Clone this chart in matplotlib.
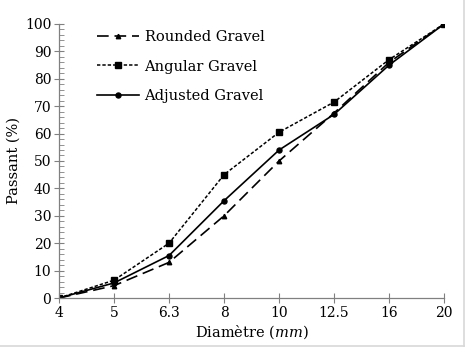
import matplotlib
matplotlib.use("Agg")
import matplotlib.pyplot as plt
from matplotlib.ticker import MultipleLocator

# sieve sizes (mm) and cumulative passing (%)
diam_labels = ["4", "5", "6.3", "8", "10", "12.5", "16", "20"]
rounded = [0, 4.5, 13, 30, 50, 67.5, 86, 100]
angular = [0, 6.5, 20, 45, 60.5, 71.5, 87, 100]
adjusted = [0, 5.5, 15.5, 35.5, 54, 67, 85, 100]

plt.rcParams["font.family"] = ["DejaVu Serif"]
plt.rcParams["mathtext.fontset"] = "dejavuserif"

fig = plt.figure(figsize=(4.74, 3.52), dpi=100)
ax = fig.add_axes([0.1245, 0.1534, 0.8125, 0.7786])

x = list(range(len(diam_labels)))
ax.plot(x, rounded, color="black", lw=1.2, ls=(0, (7, 3.5)), marker="^", ms=3.2,
        label="Rounded Gravel")
ax.plot(x, angular, color="black", lw=1.1, ls=(0, (2.2, 1.3)), marker="s", ms=4,
        label="Angular Gravel")
ax.plot(x, adjusted, color="black", lw=1.2, ls="-", marker="o", ms=3.6,
        label="Adjusted Gravel")

ax.set_xlim(0, len(diam_labels) - 1)
ax.set_ylim(0, 100)
ax.set_xticks(x)
ax.set_xticklabels(diam_labels)
ax.yaxis.set_major_locator(MultipleLocator(10))
ax.yaxis.set_minor_locator(MultipleLocator(2))

for side in ("top", "right"):
    ax.spines[side].set_visible(False)
for side in ("left", "bottom"):
    ax.spines[side].set_color("#808080")
    ax.spines[side].set_linewidth(0.9)
ax.tick_params(which="major", direction="inout", length=7, width=0.8,
               color="#808080", labelsize=10, pad=2)
ax.tick_params(axis="y", which="minor", direction="in", length=3.5, width=0.6,
               color="#808080")

ax.set_xlabel("Diamètre ($mm$)", fontsize=10.5, labelpad=3)
ax.set_ylabel("Passant (%)", fontsize=10.5, labelpad=3)

ax.legend(loc="upper left", bbox_to_anchor=(0.065, 1.025), frameon=False,
          fontsize=10.5, handlelength=2.9, numpoints=1, labelspacing=1.05,
          handletextpad=0.35)

# light frame around the figure
fig.add_artist(plt.Line2D([0.979, 0.979], [0.017, 1.0], color="#d8d8d8", lw=1.2,
                          transform=fig.transFigure))
fig.add_artist(plt.Line2D([0.0, 0.979], [0.017, 0.017], color="#d8d8d8", lw=1.2,
                          transform=fig.transFigure))

fig.savefig("out.png", dpi=100)
